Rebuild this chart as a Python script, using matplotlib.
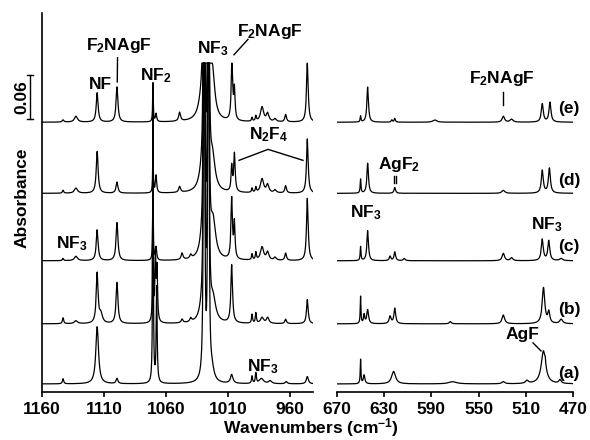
import numpy as np
import matplotlib
matplotlib.use("Agg")
import matplotlib.pyplot as plt

plt.rcParams['font.family'] = ['Liberation Sans', 'DejaVu Sans']
plt.rcParams['font.weight'] = 'bold'
plt.rcParams['mathtext.fontset'] = 'custom'
plt.rcParams['mathtext.rm'] = 'Liberation Sans:bold'
plt.rcParams['mathtext.it'] = 'Liberation Sans:bold'
plt.rcParams['mathtext.bf'] = 'Liberation Sans:bold'

# ---------------- data ----------------
trace_names = ['(a)', '(b)', '(c)', '(d)', '(e)']
trace_offsets = [0.011, 0.093, 0.179, 0.271, 0.368]   # absorbance baseline of each trace
saturation_level = 0.4486                              # strong NF3 band is cut here

left_ticks = [1160, 1110, 1060, 1010, 960]
right_ticks = [670, 630, 590, 550, 510, 470]

# peak tables: (wavenumber cm-1, height absorbance, half width cm-1)
nf3_band = [(1029.3, 3.0, 0.22), (1025.8, 3.0, 0.22)]

left_a = [(1143, 0.007, 0.6), (1115.5, 0.078, 1.3), (1099.5, 0.007, 0.9),
          (1070.5, 0.40, 0.3), (1067.5, 0.13, 0.45),
          (1029.5, 0.008, 2.0), (1023, 0.015, 2.0),
          (1007, 0.012, 1.2), (990.6, 0.010, 0.5), (987.5, 0.014, 0.5),
          (983, 0.007, 2.0), (976, 0.004, 1.5), (963, 0.003, 1.0), (946, 0.010, 1.0)]
left_b = [(1143, 0.008, 0.6), (1132.6, 0.004, 1.5), (1115.5, 0.068, 0.9), (1112.5, 0.012, 1.5),
          (1099.5, 0.056, 0.9), (1070.5, 0.20, 0.3), (1068.5, 0.09, 0.5), (1067.2, 0.07, 0.5),
          (1047, 0.005, 0.9), (1040, 0.005, 0.9), (1031, 0.015, 2.5), (1022, 0.030, 2.5),
          (1007, 0.079, 0.8), (990.6, 0.012, 0.5), (987.5, 0.014, 0.5), (982.5, 0.008, 1.5),
          (978, 0.008, 1.2), (963.5, 0.006, 0.8), (946, 0.033, 0.8)]
left_c = [(1143, 0.003, 0.6), (1132.6, 0.006, 1.5), (1115.5, 0.042, 0.9), (1099.5, 0.052, 0.9),
          (1070.5, 0.10, 0.3), (1068, 0.018, 0.6), (1047, 0.009, 0.9), (1040, 0.005, 0.9),
          (1031, 0.018, 2.5), (1022, 0.050, 2.5), (1007, 0.082, 0.7), (1004.8, 0.048, 0.6),
          (990.6, 0.008, 0.5), (987.5, 0.010, 0.5), (982.5, 0.018, 1.5), (978, 0.011, 1.2),
          (972, 0.004, 1.2), (963.5, 0.010, 0.8), (946, 0.085, 0.8)]
left_d = [(1143, 0.004, 0.6), (1132.6, 0.007, 1.5), (1115.5, 0.057, 0.9), (1099.5, 0.015, 0.9),
          (1070.5, 0.060, 0.3), (1068, 0.024, 0.6), (1049, 0.008, 0.9),
          (1031, 0.022, 2.8), (1022.5, 0.045, 2.5), (1007, 0.034, 0.6), (1004.8, 0.052, 0.7),
          (990.6, 0.006, 0.5), (987.5, 0.007, 0.5), (982.5, 0.019, 1.5), (978, 0.011, 1.2),
          (972, 0.004, 1.2), (963.5, 0.010, 0.8), (946, 0.074, 0.8)]
left_e = [(1143, 0.003, 0.8), (1132.6, 0.008, 1.5), (1115.5, 0.040, 0.9), (1099.5, 0.048, 0.9),
          (1070.5, 0.053, 0.3), (1068, 0.011, 0.6), (1049, 0.012, 0.9),
          (1031, 0.028, 3.0), (1022.5, 0.060, 2.2), (1006.8, 0.082, 0.7), (1004.8, 0.041, 0.6),
          (990.6, 0.005, 0.5), (987.5, 0.007, 0.5), (982.5, 0.020, 1.5), (978, 0.011, 1.2),
          (972, 0.004, 1.2), (963.5, 0.010, 0.8), (946, 0.082, 0.8)]

right_a = [(650, 0.033, 0.35), (647, 0.012, 0.8), (622, 0.017, 2.0), (572, 0.003, 4.0),
           (529, 0.003, 1.5), (509, 0.004, 1.5), (495, 0.045, 2.3), (493.5, 0.006, 0.3),
           (481, 0.005, 1.2)]
right_b = [(650, 0.037, 0.35), (647, 0.012, 0.6), (644, 0.019, 0.9), (625, 0.010, 1.0),
           (621, 0.021, 0.9), (574, 0.003, 1.0), (529, 0.012, 1.3), (495, 0.049, 1.3),
           (490.5, 0.015, 1.0), (480, 0.006, 1.5)]
right_c = [(650, 0.019, 0.4), (644, 0.041, 0.8), (625, 0.006, 0.8), (621, 0.012, 0.8),
           (613, 0.003, 1.0), (529, 0.010, 1.2), (522, 0.004, 1.2), (496, 0.029, 1.0),
           (490.5, 0.027, 1.0), (480, 0.003, 1.5)]
right_d = [(650, 0.019, 0.4), (644, 0.041, 0.8), (621, 0.008, 0.8), (529, 0.004, 1.5),
           (496, 0.031, 1.0), (490, 0.034, 1.0)]
right_e = [(650, 0.008, 0.4), (644, 0.048, 0.8), (623.5, 0.003, 0.6), (621, 0.005, 0.6),
           (587, 0.003, 2.0), (529, 0.008, 1.2), (522, 0.004, 1.5), (496, 0.025, 1.0),
           (489.5, 0.027, 1.0)]

left_peaks = [left_a, left_b, left_c, left_d, left_e]
right_peaks = [right_a, right_b, right_c, right_d, right_e]


def spectrum(x, peaks):
    y = np.zeros_like(x)
    for c, h, w in peaks:
        y += h * w * w / ((x - c) ** 2 + w * w)
    return y


# ---------------- figure ----------------
W, H = 590, 440
fig = plt.figure(figsize=(W / 100, H / 100), dpi=100)
axL = fig.add_axes([42 / W, 48 / H, 271 / W, 379 / H])
axR = fig.add_axes([337 / W, 48 / H, 236 / W, 379 / H])

xl = np.linspace(941.45, 1160, 6000)
xr = np.linspace(470, 670, 4000)

for off, pk in zip(trace_offsets, left_peaks):
    y = off + spectrum(xl, pk + nf3_band)
    y = np.minimum(y, saturation_level)
    axL.plot(xl, y, color='black', lw=0.9)
for off, pk in zip(trace_offsets, right_peaks):
    axR.plot(xr, off + spectrum(xr, pk), color='black', lw=0.9)

ytop = 0.517
axL.set_xlim(1160, 941.45)
axR.set_xlim(670, 470)
for ax in (axL, axR):
    ax.set_ylim(0, ytop)
    ax.set_yticks([])
    ax.spines['top'].set_visible(False)
    ax.spines['right'].set_visible(False)
    ax.spines['bottom'].set_linewidth(1.2)
    ax.tick_params(axis='x', direction='out', length=3.5, width=1.2, pad=4,
                   labelsize=12.5)
    ax.patch.set_alpha(0)
axL.spines['left'].set_linewidth(1.2)
axR.spines['left'].set_visible(False)
axL.set_xticks(left_ticks)
axR.set_xticks(right_ticks)
axL.set_xticklabels([str(t) for t in left_ticks], fontweight='bold')
axR.set_xticklabels([str(t) for t in right_ticks], fontweight='bold')

fs = 12.5
tk = dict(ha='center', va='center', fontsize=fs, fontweight='bold')
lk = dict(color='black', lw=1.0, clip_on=False)

# left panel annotations
axL.text(1113.2, 0.420, 'NF', **tk)
axL.text(1097.9, 0.473, 'F$_2$NAgF', **tk)
axL.plot([1099.1, 1099.3], [0.456, 0.423], **lk)
axL.text(1068.1, 0.432, 'NF$_2$', **tk)
axL.text(1022.1, 0.468, 'NF$_3$', **tk)
axL.text(976.1, 0.492, 'F$_2$NAgF', **tk)
axL.plot([993.9, 1005.2], [0.481, 0.460], **lk)
axL.text(976.9, 0.351, 'N$_2$F$_4$', **tk)
axL.plot([1001.1, 977.7, 949.5], [0.316, 0.331, 0.316], **lk)
axL.text(1135.8, 0.202, 'NF$_3$', **tk)
axL.text(981.8, 0.035, 'NF$_3$', **tk)

# scale bar
yb0 = 0.3724
axL.plot([1169.7, 1169.7], [yb0, yb0 + 0.06], **lk)
axL.plot([1172.1, 1167.3], [yb0, yb0], **lk)
axL.plot([1172.1, 1167.3], [yb0 + 0.06, yb0 + 0.06], **lk)
axL.text(1176.5, yb0 + 0.03, '0.06', rotation=90, clip_on=False, **tk)

# right panel annotations
axR.text(530.2, 0.428, 'F$_2$NAgF', **tk)
axR.plot([529.3, 529.3], [0.409, 0.391], **lk)
axR.text(617.5, 0.311, 'AgF$_2$', **tk)
axR.plot([621.7, 621.7], [0.295, 0.285], **lk)
axR.plot([620.0, 620.0], [0.295, 0.285], **lk)
axR.text(645.4, 0.244, 'NF$_3$', **tk)
axR.text(492.0, 0.228, 'NF$_3$', **tk)
axR.text(512.4, 0.079, 'AgF', **tk)
axR.plot([503.9, 497.1], [0.067, 0.056], **lk)

label_y = [0.025, 0.113, 0.199, 0.289, 0.387]
for name, ly in zip(trace_names, label_y):
    axR.text(473.4, ly, name, clip_on=False, **tk)

fig.text(22 / W, 1 - 198 / H, 'Absorbance', rotation=90, **tk)
fig.text(311 / W, 1 - 428 / H, 'Wavenumbers (cm$^{-1}$)', **tk)

fig.savefig('out.png', dpi=100)
